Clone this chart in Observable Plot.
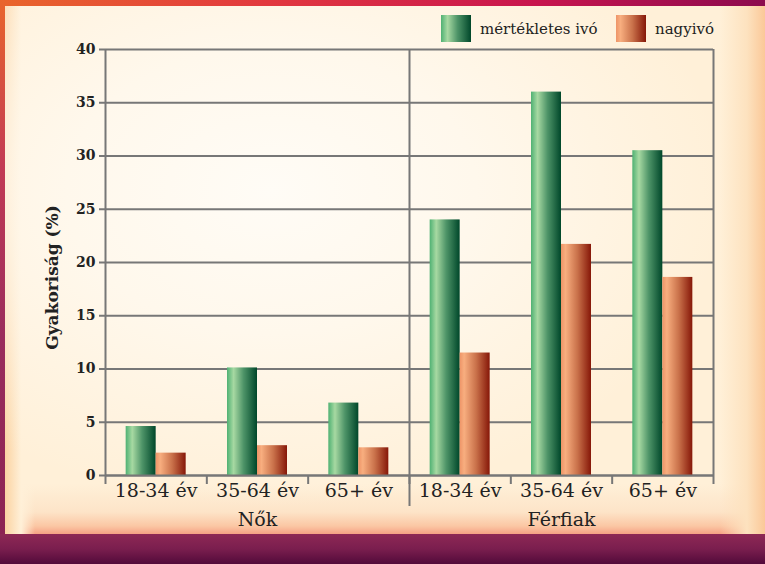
<!DOCTYPE html>
<html>
<head>
<meta charset="utf-8">
<script src="https://cdn.jsdelivr.net/npm/d3@7"></script>
<script src="https://cdn.jsdelivr.net/npm/@observablehq/plot@0.6"></script>
<style>
  html, body { margin: 0; padding: 0; }
  #wrap { position: relative; width: 765px; height: 564px; overflow: hidden; font-family: "DejaVu Serif", serif; background: #8a2050; }
  #topbar { position: absolute; left: 0; top: 0; width: 765px; height: 6px; background: linear-gradient(to right, #e9652b 0%, #e2383f 35%, #c8154e 70%, #8c0a4e 100%); }
  #leftbar { position: absolute; left: 0; top: 0; width: 5px; height: 564px; background: linear-gradient(to bottom, #e9652b 0%, #c23a55 30%, #9a2c5c 60%, #8a2252 100%); }
  #bottom { position: absolute; left: 0; top: 534px; width: 765px; height: 30px; background: linear-gradient(to bottom, #8e2855 0%, #7a1e4e 50%, #520a3a 100%); }
  #panel { position: absolute; left: 5px; top: 6px; width: 760px; height: 528px;
    background:
      radial-gradient(ellipse 60% 60% at 35% 35%, #fffcf6 0%, #fff8ec 45%, rgba(255,245,228,0) 100%),
      linear-gradient(to right, #fbd3a2 0px, #fff0d8 16px, rgba(255,240,216,0) 30px),
      linear-gradient(to left, #fbc898 0px, #fde2bf 18px, rgba(253,226,191,0) 45px),
      linear-gradient(to top, #f7a184 0px, #fbc7a4 8px, #fde4c8 22px, rgba(253,228,200,0) 50px),
      #fff0d8; }
  #chart { position: absolute; left: 0; top: 0; }
  .legend { position: absolute; top: 15px; display: flex; align-items: center; }
  .sw { width: 30px; height: 27px; }
  .lt { font-size: 15px; color: #222; margin-left: 9px; }
</style>
</head>
<body>
<div id="wrap">
  <div id="panel"></div>
  <div id="topbar"></div>
  <div id="leftbar"></div>
  <div id="bottom"></div>
  <div id="chart"></div>
  <div class="legend" id="leg1" style="left:441px"></div>
  <div class="legend" id="leg2" style="left:616px"></div>
</div>
<script>
const sexes = ["Nők", "Férfiak"];
const ages = ["18-34 év", "35-64 év", "65+ év"];
const series = ["mértékletes ivó", "nagyivó"];
const moderate = [4.6, 10.1, 6.8, 24.0, 36.0, 30.5];
const heavy = [2.1, 2.8, 2.6, 11.5, 21.7, 18.6];
const yTicks = [0, 5, 10, 15, 20, 25, 30, 35, 40];

const rows = [];
sexes.forEach((s, si) => ages.forEach((a, ai) => {
  const i = si * ages.length + ai;
  rows.push({i, sex: s, age: a, moderate: moderate[i], heavy: heavy[i]});
}));

const FONT = "'DejaVu Serif', serif";
const W = 765, H = 564, mL = 105, mR = 52, mT = 49, mB = 89;
const groupW = (W - mL - mR) / rows.length;
const barW = 30;
const innerGap = groupW / 2 - barW;
const grey = "#777";
const ink = "#222";

const chart = Plot.plot({
  width: W, height: H,
  marginLeft: mL, marginRight: mR, marginTop: mT, marginBottom: mB,
  style: {background: "transparent", fontFamily: FONT, color: ink, overflow: "visible"},
  x: {type: "linear", domain: [0, rows.length], axis: null},
  y: {domain: [0, 40], axis: null},
  marks: [
    Plot.gridY({ticks: yTicks, stroke: grey, strokeOpacity: 1, strokeWidth: 2}),
    Plot.ruleX([0, ages.length, rows.length], {stroke: grey, strokeWidth: 2}),
    Plot.rectY(rows, {x1: "i", x2: d => d.i + 1, y: "moderate", fill: "url(#gGreen)", insetLeft: innerGap, insetRight: groupW / 2}),
    Plot.rectY(rows, {x1: "i", x2: d => d.i + 1, y: "heavy", fill: "url(#gOrange)", insetLeft: groupW / 2, insetRight: innerGap}),
    Plot.ruleY([0], {stroke: grey, strokeWidth: 2}),
    Plot.axisY({ticks: yTicks, tickSize: 6, tickPadding: 4, stroke: grey, strokeWidth: 2, fontSize: 14, fontWeight: "bold", fill: ink, label: null}),
    Plot.axisX({ticks: d3.range(0, rows.length + 1), tickSize: 9, tickFormat: () => "", stroke: grey, strokeWidth: 2, label: null}),
    Plot.axisX({ticks: [ages.length], tickSize: 31, tickFormat: () => "", stroke: grey, strokeWidth: 2, label: null}),
    Plot.axisX({ticks: rows.map(d => d.i + 0.5), tickSize: 0, tickPadding: 8, tickFormat: v => ages[Math.floor(v) % ages.length], fontSize: 19, fill: ink, label: null}),
    Plot.axisX({ticks: sexes.map((s, si) => si * ages.length + ages.length / 2), tickSize: 0, tickPadding: 37, tickFormat: v => sexes[Math.floor(v / ages.length)], fontSize: 19, fill: ink, label: null}),
    Plot.text(["Gyakoriság (%)"], {frameAnchor: "left", textAnchor: "middle", dx: -53, dy: 15, rotate: -90, fontSize: 17, fontWeight: "bold", fill: ink})
  ]
});

const svg = d3.select(chart);
const defs = svg.insert("defs", ":first-child");
function grad(id, stops) {
  const g = defs.append("linearGradient").attr("id", id).attr("x1", "0").attr("x2", "1").attr("y1", "0").attr("y2", "0");
  stops.forEach(([o, c]) => g.append("stop").attr("offset", o).attr("stop-color", c));
}
const greenStops = [[0, "#4fb173"], [0.22, "#a7d9a2"], [0.55, "#4e9468"], [1, "#00472a"]];
const orangeStops = [[0, "#ee9467"], [0.15, "#f8ae7f"], [0.55, "#c9714a"], [1, "#861708"]];
grad("gGreen", greenStops);
grad("gOrange", orangeStops);
document.getElementById("chart").appendChild(chart);

const css = stops => "linear-gradient(to right, " + stops.map(([o, c]) => `${c} ${o * 100}%`).join(", ") + ")";
[["leg1", greenStops, series[0]], ["leg2", orangeStops, series[1]]].forEach(([id, st, label]) => {
  const el = document.getElementById(id);
  const sw = document.createElement("div"); sw.className = "sw"; sw.style.background = css(st);
  const t = document.createElement("span"); t.className = "lt"; t.textContent = label;
  el.appendChild(sw); el.appendChild(t);
});
</script>
</body>
</html>
